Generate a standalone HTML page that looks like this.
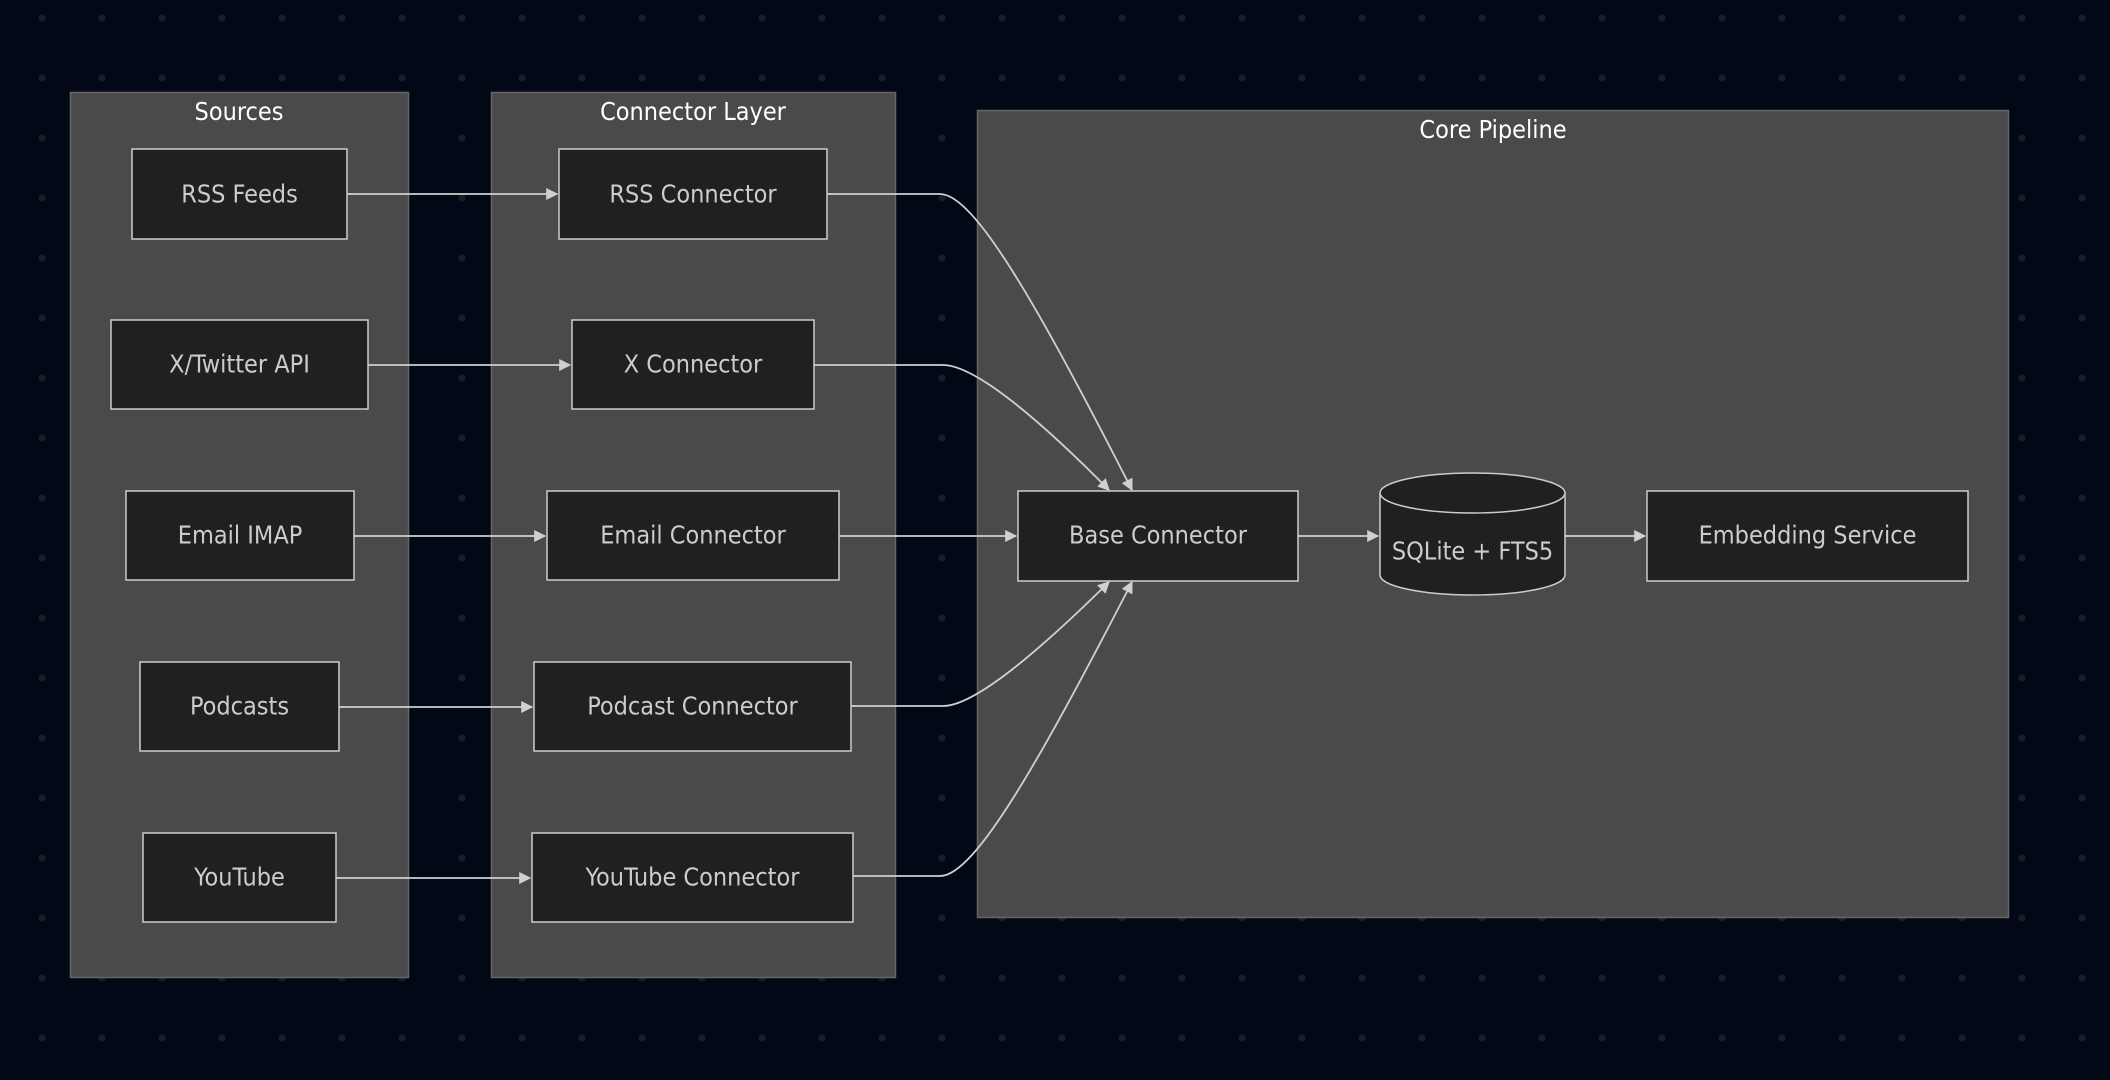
<!DOCTYPE html>
<html><head><meta charset="utf-8"><style>
html,body{margin:0;padding:0;background:#020816;}
svg{display:block}
text{font-family:"DejaVu Sans Condensed","DejaVu Sans","Liberation Sans",sans-serif;}
</style></head><body>
<svg width="2110" height="1080" viewBox="0 0 2110 1080" xmlns="http://www.w3.org/2000/svg">
<defs>
<pattern id="dots" x="0" y="0" width="60" height="60" patternUnits="userSpaceOnUse">
<circle cx="42" cy="18" r="3.5" fill="#1a1e2b"/>
</pattern>
<marker id="ah" viewBox="0 0 10 10" refX="9" refY="5" markerWidth="12" markerHeight="12" markerUnits="userSpaceOnUse" orient="auto">
<path d="M0,0 L10,5 L0,10 z" fill="#d0d0d0"/>
</marker>
</defs>
<rect width="2110" height="1080" fill="#020816"/>
<rect width="2110" height="1080" fill="url(#dots)"/>

<!-- clusters -->
<rect x="70.5" y="92.5" width="338" height="885" fill="#4a4a4a" stroke="#666" stroke-width="1.5"/>
<rect x="491.5" y="92.5" width="404" height="885" fill="#4a4a4a" stroke="#666" stroke-width="1.5"/>
<rect x="977.5" y="110.5" width="1031" height="807" fill="#4a4a4a" stroke="#666" stroke-width="1.5"/>
<g fill="#ffffff" font-size="25" text-anchor="middle">
<text x="239" y="120">Sources</text>
<text x="693" y="120">Connector Layer</text>
<text x="1493" y="138">Core Pipeline</text>
</g>

<!-- edges -->
<g stroke="#d0d0d0" stroke-width="1.8" fill="none" marker-end="url(#ah)">
<path d="M347,194 H557"/>
<path d="M368,365 H570"/>
<path d="M354,536 H545"/>
<path d="M339,707 H532"/>
<path d="M336,878 H530"/>
<path d="M827,194 H940 C975,194 1040,310 1132,490"/>
<path d="M814,365 H943 C975,365 1040,420 1109,490"/>
<path d="M839,536 H1016"/>
<path d="M851,706 H943 C975,706 1040,650 1109,582"/>
<path d="M853,876 H940 C975,876 1040,760 1132,582"/>
<path d="M1298,536 H1378"/>
<path d="M1565,536 H1645"/>
</g>

<!-- nodes -->
<g fill="#1f2020" stroke="#cccccc" stroke-width="1.5">
<rect x="132" y="149" width="215" height="90"/>
<rect x="111" y="320" width="257" height="89"/>
<rect x="126" y="491" width="228" height="89"/>
<rect x="140" y="662" width="199" height="89"/>
<rect x="143" y="833" width="193" height="89"/>
<rect x="559" y="149" width="268" height="90"/>
<rect x="572" y="320" width="242" height="89"/>
<rect x="547" y="491" width="292" height="89"/>
<rect x="534" y="662" width="317" height="89"/>
<rect x="532" y="833" width="321" height="89"/>
<rect x="1018" y="491" width="280" height="90"/>
<rect x="1647" y="491" width="321" height="90"/>
<path d="M1380,493 A92.5,20 0 0 1 1565,493 V575 A92.5,20 0 0 1 1380,575 Z"/>
<path d="M1380,493 A92.5,20 0 0 0 1565,493" fill="none"/>
</g>
<g fill="#cccccc" font-size="25" text-anchor="middle" dominant-baseline="central">
<text x="239.5" y="194">RSS Feeds</text>
<text x="239.5" y="364">X/Twitter API</text>
<text x="240" y="535">Email IMAP</text>
<text x="239.5" y="706">Podcasts</text>
<text x="239.5" y="877">YouTube</text>
<text x="693" y="194">RSS Connector</text>
<text x="693" y="364">X Connector</text>
<text x="693" y="535">Email Connector</text>
<text x="692.5" y="706">Podcast Connector</text>
<text x="692.5" y="877">YouTube Connector</text>
<text x="1158" y="535">Base Connector</text>
<text x="1472.5" y="551">SQLite + FTS5</text>
<text x="1807.5" y="535">Embedding Service</text>
</g>
</svg>
</body></html>
